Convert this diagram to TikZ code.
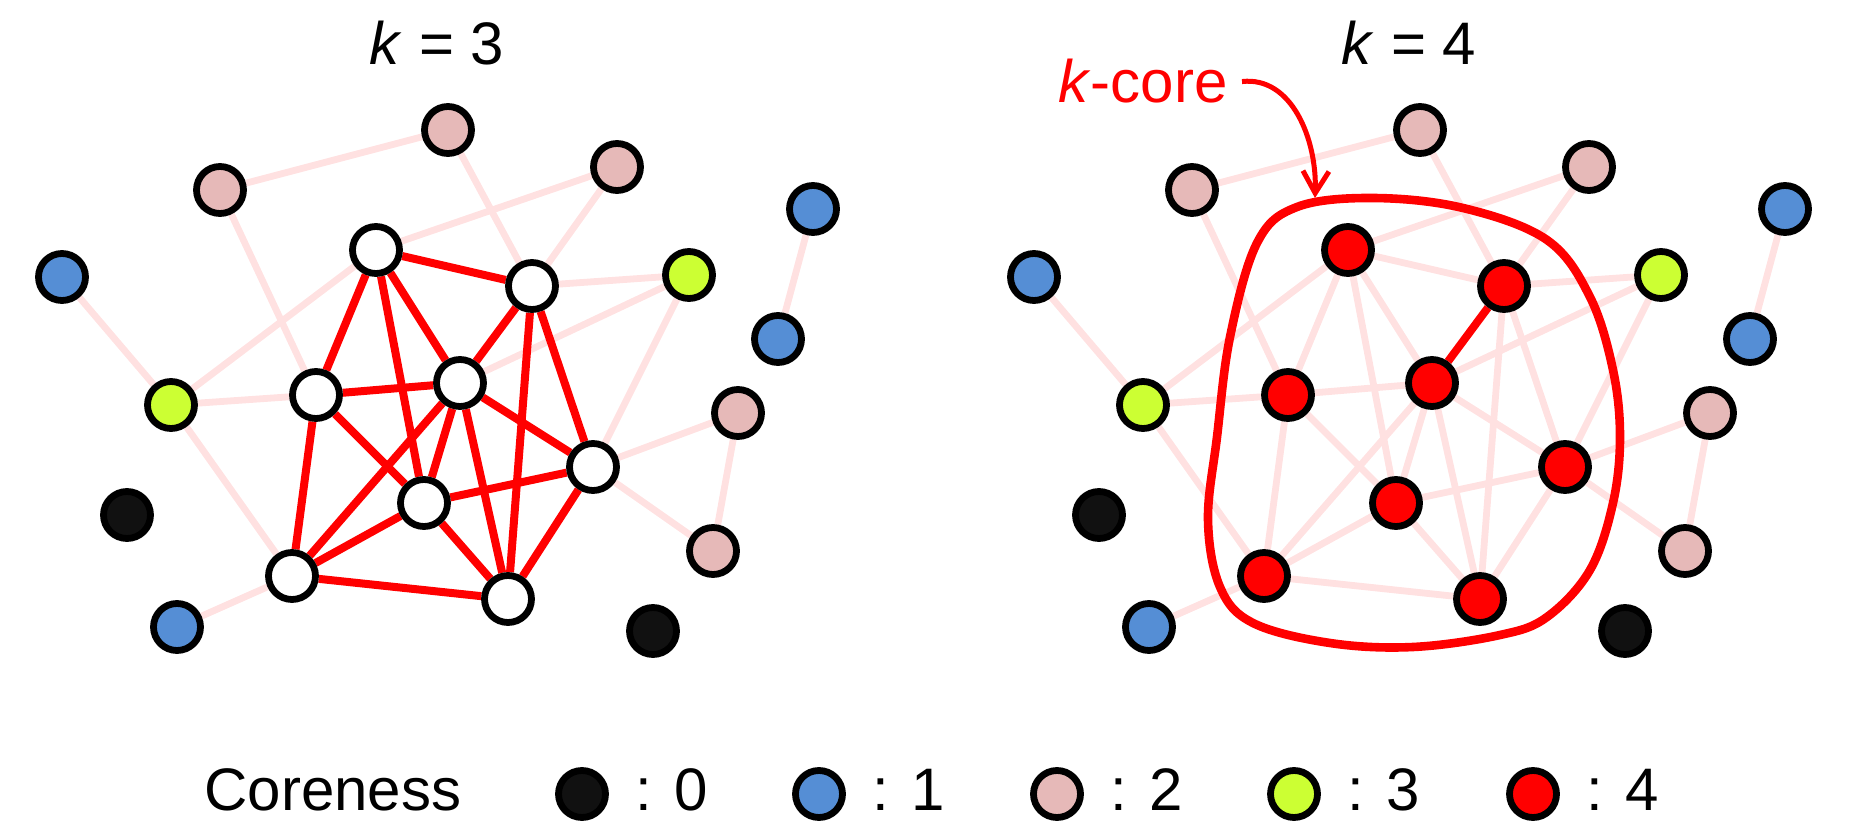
\documentclass[tikz,border=0pt]{standalone}
\usepackage{fontspec}
\setmainfont{Liberation Sans}
\usetikzlibrary{arrows.meta}
\definecolor{cpink}{HTML}{E6B9B8}
\definecolor{cblue}{HTML}{558ED5}
\definecolor{cgreen}{HTML}{CCFF33}
\definecolor{cblack}{HTML}{111111}
\definecolor{cred}{HTML}{FF0000}
\definecolor{cedge}{HTML}{FFE1E1}
\pgfdeclarelayer{bg}
\pgfsetlayers{bg,main}
\begin{document}
\begin{tikzpicture}[x=0.5pt,y=-0.5pt,
  vtx/.style={circle,draw=black,line width=3.4pt,minimum size=23.5pt,inner sep=0pt},
  weak/.style={draw=cedge,line width=3.4pt},
  strong/.style={draw=cred,line width=4pt},
  lbl/.style={font=\fontsize{30}{36}\selectfont,inner sep=0pt,anchor=base}]
\useasboundingbox (0,0) rectangle (1852,834);

% titles
\node[lbl] (t3) at (437,65) {\textit{k} = 3};
\node[lbl] (t4) at (1409,65) {\textit{k} = 4};

% nodes of both panels
\foreach \p/\ox/\cf in {L/0/white, R/972/cred} {
  \node[vtx,fill=cpink]  (\p pT)  at (\ox+448,130) {};
  \node[vtx,fill=cpink]  (\p pL)  at (\ox+220,190) {};
  \node[vtx,fill=cpink]  (\p pR)  at (\ox+617,167) {};
  \node[vtx,fill=cblue]  (\p bL)  at (\ox+62,277) {};
  \node[vtx,fill=cblue]  (\p bRa) at (\ox+813,209) {};
  \node[vtx,fill=cblue]  (\p bRb) at (\ox+778,339) {};
  \node[vtx,fill=cgreen] (\p gR)  at (\ox+689,275) {};
  \node[vtx,fill=cgreen] (\p gL)  at (\ox+171,405) {};
  \node[vtx,fill=cpink]  (\p pRb) at (\ox+738,413) {};
  \node[vtx,fill=cpink]  (\p pRc) at (\ox+713,551) {};
  \node[vtx,fill=cblack] (\p kA)  at (\ox+127,515) {};
  \node[vtx,fill=cblack] (\p kB)  at (\ox+653,631) {};
  \node[vtx,fill=cblue]  (\p bB)  at (\ox+177,627) {};
  \node[vtx,fill=\cf] (\p A) at (\ox+376,250) {};
  \node[vtx,fill=\cf] (\p B) at (\ox+532,286) {};
  \node[vtx,fill=\cf] (\p C) at (\ox+460,383) {};
  \node[vtx,fill=\cf] (\p D) at (\ox+316,395) {};
  \node[vtx,fill=\cf] (\p E) at (\ox+593,467) {};
  \node[vtx,fill=\cf] (\p F) at (\ox+424,503) {};
  \node[vtx,fill=\cf] (\p G) at (\ox+292,576) {};
  \node[vtx,fill=\cf] (\p H) at (\ox+508,599) {};
}

\begin{pgfonlayer}{bg}
  \foreach \p in {L,R} {
    \foreach \u/\v in {pT/pL, pT/B, pR/A, pR/B, pL/D, bL/gL, A/gL, gL/D, gL/G,
                       B/gR, gR/C, gR/E, bRa/bRb, pRb/E, pRb/pRc, E/pRc, bB/G} {
      \draw[weak] (\p\u) -- (\p\v);
    }
  }
  \foreach \u/\v in {A/B, A/D, A/F, A/C, B/H, B/E, D/C, D/G, D/F, C/G,
                     C/F, C/H, C/E, F/E, F/G, F/H, G/H, H/E} {
    \draw[weak] (R\u) -- (R\v);
  }
  \foreach \u/\v in {A/B, A/D, A/F, A/C, B/C, B/H, B/E, D/C, D/G, D/F, C/G,
                     C/F, C/H, C/E, F/E, F/G, F/H, G/H, H/E} {
    \draw[strong] (L\u) -- (L\v);
  }
  \draw[strong] (RB) -- (RC);
\end{pgfonlayer}

% k-core outline
\draw[cred,line width=4.3pt] plot[smooth cycle,tension=0.6] coordinates {
  (1373,198) (1463,208) (1547,240) (1590,297) (1613,370) (1620,437)
  (1613,503) (1590,570) (1547,617) (1500,635) (1413,647) (1330,643)
  (1253,623) (1220,587) (1208,520) (1217,437) (1230,337) (1257,243)
  (1297,207)};

% k-core label and arrow
\node[lbl,anchor=base west,text=cred] (kc) at (1058,103) {\textit{k}-core};
\coordinate (kctip) at (1315,198);
\draw[cred,line width=2.5pt,-{Straight Barb[length=11pt,width=13pt]}]
  ([xshift=7pt]kc.east) .. controls (1292,76) and (1317,140) .. (kctip);

% legend
\node[lbl,anchor=base west] (leg) at (204,810) {Coreness};
\foreach \i/\x/\c in {0/582/cblack, 1/819/cblue, 2/1057/cpink, 3/1294/cgreen, 4/1533/cred} {
  \node[vtx,fill=\c] (lc\i) at (\x,794) {};
  \node[lbl,anchor=base west] (lt\i) at (\x+53,810) {: \i};
}
\end{tikzpicture}
\end{document}
